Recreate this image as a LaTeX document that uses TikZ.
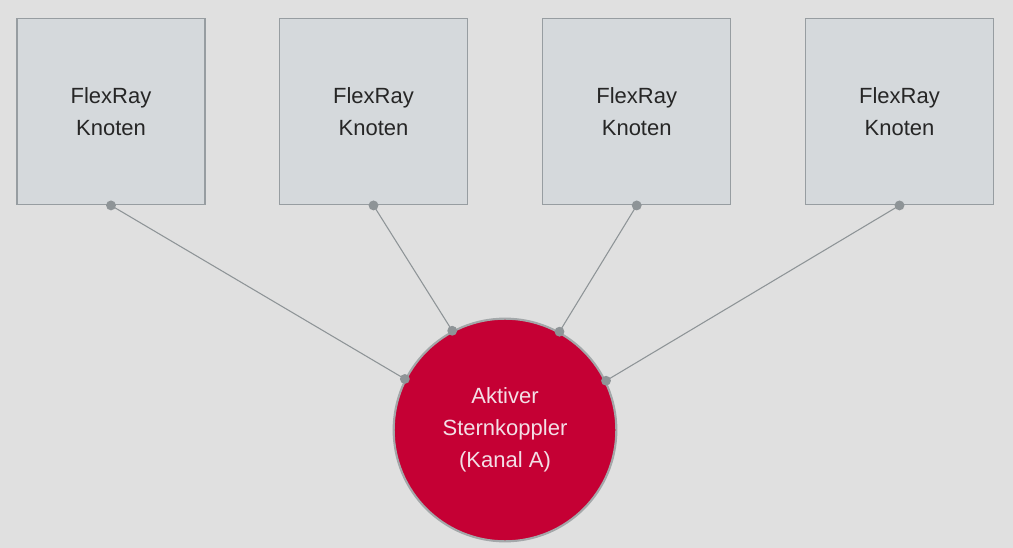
\documentclass[tikz,border=0pt]{standalone}
\usepackage{fontspec}
\setmainfont{Liberation Sans}
\usepackage{tikz}
\usetikzlibrary{positioning}

\definecolor{hgrund}{HTML}{E0E0E0}
\definecolor{knotenfill}{HTML}{D5D9DC}
\definecolor{knotenrand}{HTML}{979DA1}
\definecolor{leitung}{HTML}{8E9497}
\definecolor{sternrot}{HTML}{C50034}
\definecolor{sternrand}{HTML}{A3A7A9}
\definecolor{sterntext}{HTML}{F3DFE6}

\begin{document}
\begin{tikzpicture}[x=0.75pt, y=-0.75pt,
    knoten/.style={draw=knotenrand, line width=0.9pt, fill=knotenfill, minimum width=141pt, minimum height=140pt, inner sep=0pt, align=center, text=black!85, font=\fontsize{16.5}{24}\selectfont},
    stern/.style={circle, draw=sternrand, line width=1.6pt, fill=sternrot, minimum size=167pt, inner sep=0pt, align=center, text=sterntext, font=\fontsize{16.5}{24}\selectfont},
    leitung/.style={draw=leitung, line width=0.8pt},
    punkt/.style={fill=leitung}]
    \fill[hgrund] (0,0) rectangle (1013,548);
    \useasboundingbox (0,0) rectangle (1013,548);
    % FlexRay nodes
    \foreach \i/\x in {1/111, 2/373.5, 3/636.7, 4/899.5}
    {
    \node[knoten] (k\i) at (\x,111.5) {FlexRay\\Knoten};
    }
    % star coupler
    \node[stern] (sk) at (505,430) {Aktiver\\Sternkoppler\\(Kanal A)};
    \foreach \i/\w in {1/153.2, 2/118.6, 3/61.4, 4/26.8}
    {
    \draw[leitung] (k\i.south) -- (sk.\w);
    \fill[punkt] (k\i.south) circle (3.7pt);
    \fill[punkt] (sk.\w) circle (3.7pt);
    }
\end{tikzpicture}
\end{document}
